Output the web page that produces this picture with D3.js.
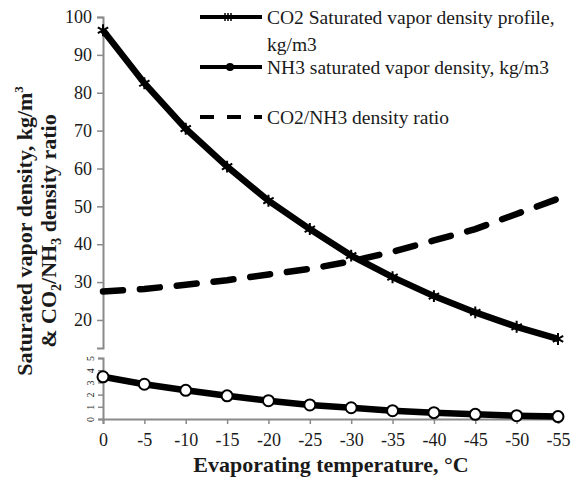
<!DOCTYPE html>
<html lang="en">
<head>
    <meta charset="UTF-8">
    <title>Saturated vapor density</title>
    <script src="https://d3js.org/d3.v7.min.js"></script>
    <style>
        body { margin: 0; background: #fff; }
        svg text { font-family: "Liberation Serif", "Times New Roman", serif; fill: #1a1a1a; }
        .tick-label { font-size: 18px; }
        .small-tick { font-size: 10px; }
        .axis-title { font-size: 22px; font-weight: bold; }
        .legend-text { font-size: 19.5px; }
    </style>
</head>
<body>
<svg id="chart" width="573" height="481" font-family="Liberation Serif"></svg>

<script>
    const temps = [0, -5, -10, -15, -20, -25, -30, -35, -40, -45, -50, -55];
    const co2Density = [96.5, 82.5, 70.5, 60.5, 51.5, 44, 37, 31.3, 26.3, 22, 18.2, 15];
    const nh3Density = [3.46, 2.85, 2.35, 1.9, 1.5, 1.15, 0.92, 0.68, 0.52, 0.38, 0.27, 0.2];
    const densityRatio = [27.5, 28.2, 29.3, 30.5, 32, 33.5, 35.5, 38, 41, 44, 48, 52];
    const topTicks = [20, 30, 40, 50, 60, 70, 80, 90, 100];
    const bottomTicks = [0, 1, 2, 3, 4, 5];
    const legendLabels = [
        ["CO2 Saturated vapor density profile,", "kg/m3"],
        ["NH3 saturated vapor density, kg/m3"],
        ["CO2/NH3 density ratio"]
    ];

    const svg = d3.select("#chart");
    const axisColor = "#8a8a8a";

    const x = d3.scaleLinear().domain([0, -55]).range([103, 558]);
    const yTop = d3.scaleLinear().domain([12.6, 100]).range([348, 17]);
    const yBot = d3.scaleLinear().domain([0, 5]).range([419, 358]);

    // axes
    const topAxis = svg.append("g").attr("transform", "translate(103,0)")
        .call(d3.axisLeft(yTop).tickValues(topTicks).tickSize(6).tickPadding(5));
    const botAxis = svg.append("g").attr("transform", "translate(103,0)")
        .call(d3.axisLeft(yBot).tickValues(bottomTicks).tickSize(5).tickFormat(""));
    const xAxis = svg.append("g").attr("transform", "translate(0,419)")
        .call(d3.axisBottom(x).tickValues(temps).tickSize(5).tickPadding(9)
            .tickFormat(d => d === 0 ? "0" : "-" + Math.abs(d)));

    [topAxis, botAxis, xAxis].forEach(a => {
        a.attr("font-family", null).attr("font-size", null);
        a.select(".domain").attr("stroke", axisColor).attr("stroke-width", 2);
        a.selectAll(".tick line").attr("stroke", axisColor).attr("stroke-width", 1.5);
        a.selectAll(".tick text").attr("class", "tick-label").attr("fill", null);
    });
    // small rotated labels on the lower panel
    botAxis.selectAll(".tick").append("text")
        .attr("class", "small-tick")
        .attr("transform", "translate(-9,0) rotate(-90)")
        .attr("text-anchor", "middle")
        .text(d => d);

    // lines
    const lineTop = d3.line().x((d, i) => x(temps[i])).y(d => yTop(d));
    const lineBot = d3.line().x((d, i) => x(temps[i])).y(d => yBot(d));

    svg.append("path").datum(densityRatio)
        .attr("d", lineTop).attr("fill", "none").attr("stroke", "#000")
        .attr("stroke-width", 6.5).attr("stroke-dasharray", "20,17")
        .attr("stroke-linecap", "round");

    svg.append("path").datum(co2Density)
        .attr("d", lineTop).attr("fill", "none").attr("stroke", "#000")
        .attr("stroke-width", 6.5);

    svg.append("path").datum(nh3Density)
        .attr("d", lineBot).attr("fill", "none").attr("stroke", "#000")
        .attr("stroke-width", 6.5);

    const star = d3.symbol().type(d3.symbolAsterisk).size(100);
    svg.selectAll(".co2-mark").data(co2Density).enter().append("path")
        .attr("class", "co2-mark")
        .attr("transform", (d, i) => `translate(${x(temps[i])},${yTop(d)})`)
        .attr("d", star).attr("fill", "none").attr("stroke", "#000").attr("stroke-width", 2);

    svg.selectAll(".nh3-mark").data(nh3Density).enter().append("circle")
        .attr("class", "nh3-mark")
        .attr("cx", (d, i) => x(temps[i])).attr("cy", d => yBot(d))
        .attr("r", 5.5).attr("fill", "#fff").attr("stroke", "#000").attr("stroke-width", 2);

    // axis titles
    svg.append("text").attr("class", "axis-title")
        .attr("x", 331).attr("y", 472).attr("text-anchor", "middle")
        .text("Evaporating temperature, °C");

    const yTitle = svg.append("text").attr("class", "axis-title")
        .attr("transform", "translate(0,231) rotate(-90)").attr("text-anchor", "middle");
    yTitle.append("tspan").attr("x", 0).attr("y", 32)
        .text("Saturated vapor density, kg/m")
        .append("tspan").attr("font-size", 13).attr("dy", -9).text("3");
    const l2 = yTitle.append("tspan").attr("x", 0).attr("y", 56);
    l2.append("tspan").text("& CO");
    l2.append("tspan").attr("font-size", 14).attr("dy", 5).text("2");
    l2.append("tspan").attr("dy", -5).text("/NH");
    l2.append("tspan").attr("font-size", 14).attr("dy", 5).text("3");
    l2.append("tspan").attr("dy", -5).text(" density ratio");

    // legend
    const legendY = [17, 67, 117];
    const legend = svg.append("g");
    legendLabels.forEach((lines, i) => {
        const g = legend.append("g").attr("transform", `translate(200,${legendY[i]})`);
        g.append("line").attr("x1", 0).attr("x2", 62).attr("stroke", "#000")
            .attr("stroke-width", 4)
            .attr("stroke-dasharray", i === 2 ? "14,13" : null);
        if (i === 0) {
            [-3, 0, 3].forEach(dx => g.append("line").attr("x1", 28 + dx).attr("x2", 28 + dx)
                .attr("y1", -4).attr("y2", 4).attr("stroke", "#000").attr("stroke-width", 1.5));
        }
        if (i === 1) {
            g.append("circle").attr("cx", 30).attr("r", 4).attr("fill", "#000");
        }
        lines.forEach((t, j) => {
            g.append("text").attr("class", "legend-text")
                .attr("x", 67).attr("y", 7 + j * 27).text(t);
        });
    });
</script>
</body>
</html>
